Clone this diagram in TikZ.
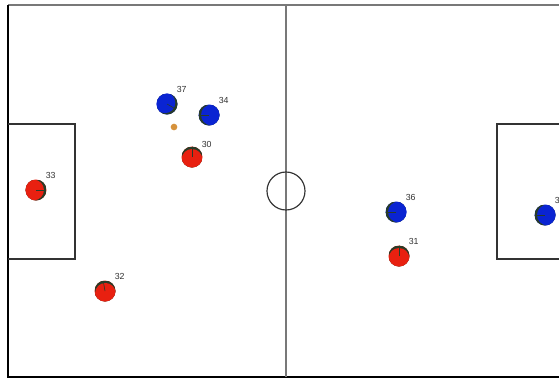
\documentclass[tikz,border=0pt]{standalone}
\usepackage{fontspec}
\setsansfont{Liberation Sans}
\usetikzlibrary{positioning}

\definecolor{teamred}{RGB}{232,32,16}
\definecolor{teamblue}{RGB}{10,36,210}
\definecolor{facedark}{RGB}{40,60,40}
\definecolor{ballorange}{RGB}{214,146,60}
\definecolor{numgray}{RGB}{50,50,50}
\definecolor{linegray}{RGB}{120,120,120}

\begin{document}
\begin{tikzpicture}[
    x=0.03cm, y=-0.03cm,
    line/.style={draw, line width=1pt},
    player/.style={circle, minimum size=0.63cm, inner sep=0pt},
    face/.style 2 args={path picture={
        \fill[facedark] (path picture bounding box.south west) rectangle (path picture bounding box.north east);
        \fill[#2] ([shift={(#1+180:0.07cm)}]path picture bounding box.center) circle[radius=0.31cm];
        \draw[facedark, line width=0.5pt] (path picture bounding box.center) -- ++(#1:0.32cm);}},
    redp/.style={player, fill=teamred, face={#1}{teamred}},
    bluep/.style={player, fill=teamblue, face={#1}{teamblue}},
    num/.style={font=\fontsize{7.5}{8}\sffamily, text=numgray, inner sep=0pt},
    ball/.style={circle, fill=ballorange, minimum size=0.2cm, inner sep=0pt}
]
    \useasboundingbox (0,0) rectangle (559,379);
    \clip (0,0) rectangle (559,379);

    % Pitch
    \path [line, linegray] (8,5) -- (600,5);
    \path [line, black] (8,5) -- (8,377) -- (600,377);
    \path [line, linegray] (286,5) -- (286,377);
    \path [line, black!80] (286,191) circle[radius=19];
    \path [line, black!80] (8,124) -- (75,124) -- (75,259) -- (8,259);
    \path [line, black!80] (600,124) -- (497,124) -- (497,259) -- (600,259);

    % Players
    \node [bluep=-30] (p37) at (167,104) {};
    \node [bluep=180] (p34) at (209,115) {};
    \node [redp=90] (p30) at (192,157) {};
    \node [redp=0] (p33) at (36,190) {};
    \node [redp=100] (p32) at (105,291) {};
    \node [bluep=180] (p36) at (396,212) {};
    \node [redp=90] (p31) at (399,256) {};
    \node [bluep=180] (p35) at (545,215) {};
    \node [ball] (ball) at (174,127) {};

    % Numbers
    \node [num, above right=0.12cm and 0.06cm of p37] (n37) {37};
    \node [num, above right=0.12cm and 0.06cm of p34] (n34) {34};
    \node [num, above right=0.06cm and 0.06cm of p30] (n30) {30};
    \node [num, above right=0.12cm and 0.06cm of p33] (n33) {33};
    \node [num, above right=0.12cm and 0.06cm of p32] (n32) {32};
    \node [num, above right=0.12cm and 0.06cm of p36] (n36) {36};
    \node [num, above right=0.12cm and 0.06cm of p31] (n31) {31};
    \node [num, above right=0.12cm and 0.06cm of p35] (n35) {35};
\end{tikzpicture}
\end{document}
